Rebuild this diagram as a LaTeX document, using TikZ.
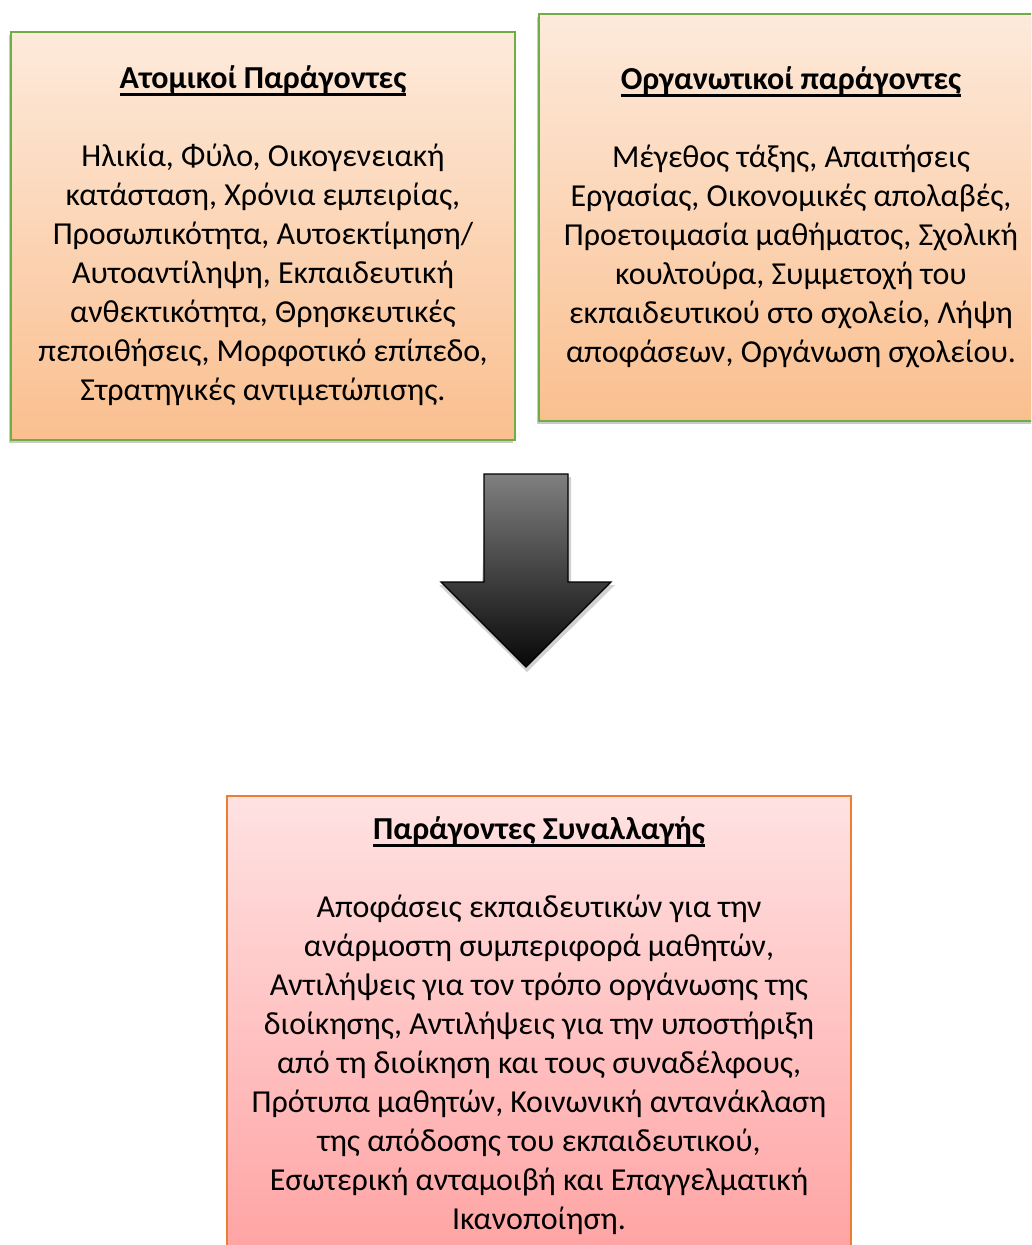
\documentclass[tikz,border=0pt]{standalone}
\usepackage{fontspec}
\setmainfont{Carlito}
\usetikzlibrary{shadows}
\definecolor{peachtop}{RGB}{253,234,219}
\definecolor{peachbot}{RGB}{250,191,143}
\definecolor{pinktop}{RGB}{255,226,226}
\definecolor{pinkbot}{RGB}{255,163,163}
\definecolor{greenline}{RGB}{112,173,71}
\definecolor{orangeline}{RGB}{237,125,49}
\newsavebox{\titlebox}
\newcommand{\boxtitle}[1]{\sbox{\titlebox}{\textbf{#1}}\rlap{\usebox{\titlebox}}\rule[-7pt]{\wd\titlebox}{2.8pt}}
\begin{document}
\begin{tikzpicture}[x=1pt,y=-1pt,
  factorbox/.style={draw=greenline, line width=2pt, top color=peachtop, bottom color=peachbot,
    anchor=north west, align=center, inner sep=0pt,
    font=\fontsize{32pt}{39pt}\selectfont,
    drop shadow={shadow xshift=-2.5pt, shadow yshift=-3pt, opacity=0.35, fill=black!60}},
  transbox/.style={draw=orangeline, line width=2pt, top color=pinktop, bottom color=pinkbot,
    anchor=north west, align=center, inner sep=0pt,
    font=\fontsize{32pt}{39pt}\selectfont},
  bigarrow/.style={draw=black, line width=1.3pt, top color=black!50, bottom color=black!97}
]
\useasboundingbox (0,0) rectangle (1031,1245);
\clip (0,0) rectangle (1031,1245);

\node[factorbox, minimum width=504pt, minimum height=408pt] (atomic) at (10,31)
  {\boxtitle{Ατομικοί Παράγοντες}\\[39pt]
   Ηλικία, Φύλο, Οικογενειακή\\
   κατάσταση, Χρόνια εμπειρίας,\\
   Προσωπικότητα, Αυτοεκτίμηση/\\
   Αυτοαντίληψη, Εκπαιδευτική\\
   ανθεκτικότητα, Θρησκευτικές\\
   πεποιθήσεις, Μορφοτικό επίπεδο,\\
   Στρατηγικές αντιμετώπισης.};

\node[factorbox, minimum width=504pt, minimum height=407pt] (organ) at (538,13)
  {\boxtitle{Οργανωτικοί παράγοντες}\\[39pt]
   Μέγεθος τάξης, Απαιτήσεις\\
   Εργασίας, Οικονομικές απολαβές,\\
   Προετοιμασία μαθήματος, Σχολική\\
   κουλτούρα, Συμμετοχή του\\
   εκπαιδευτικού στο σχολείο, Λήψη\\
   αποφάσεων, Οργάνωση σχολείου.};

\node[transbox, minimum width=624pt, minimum height=460pt] (trans) at (226,795)
  {\boxtitle{Παράγοντες Συναλλαγής}\\[39pt]
   Αποφάσεις εκπαιδευτικών για την\\
   ανάρμοστη συμπεριφορά μαθητών,\\
   Αντιλήψεις για τον τρόπο οργάνωσης της\\
   διοίκησης, Αντιλήψεις για την υποστήριξη\\
   από τη διοίκηση και τους συναδέλφους,\\
   Πρότυπα μαθητών, Κοινωνική αντανάκλαση\\
   της απόδοσης του εκπαιδευτικού,\\
   Εσωτερική ανταμοιβή και Επαγγελματική\\
   Ικανοποίηση.};

% block arrow
\fill[black, opacity=0.18] (486,477) -- (571,477) -- (571,585) -- (615,585) -- (527,672) -- (439,585) -- (482,585) -- cycle;
\path[bigarrow] (484,474) -- (568,474) -- (568,582) -- (611,582) -- (526,667) -- (441,582) -- (484,582) -- cycle;
\end{tikzpicture}
\end{document}
